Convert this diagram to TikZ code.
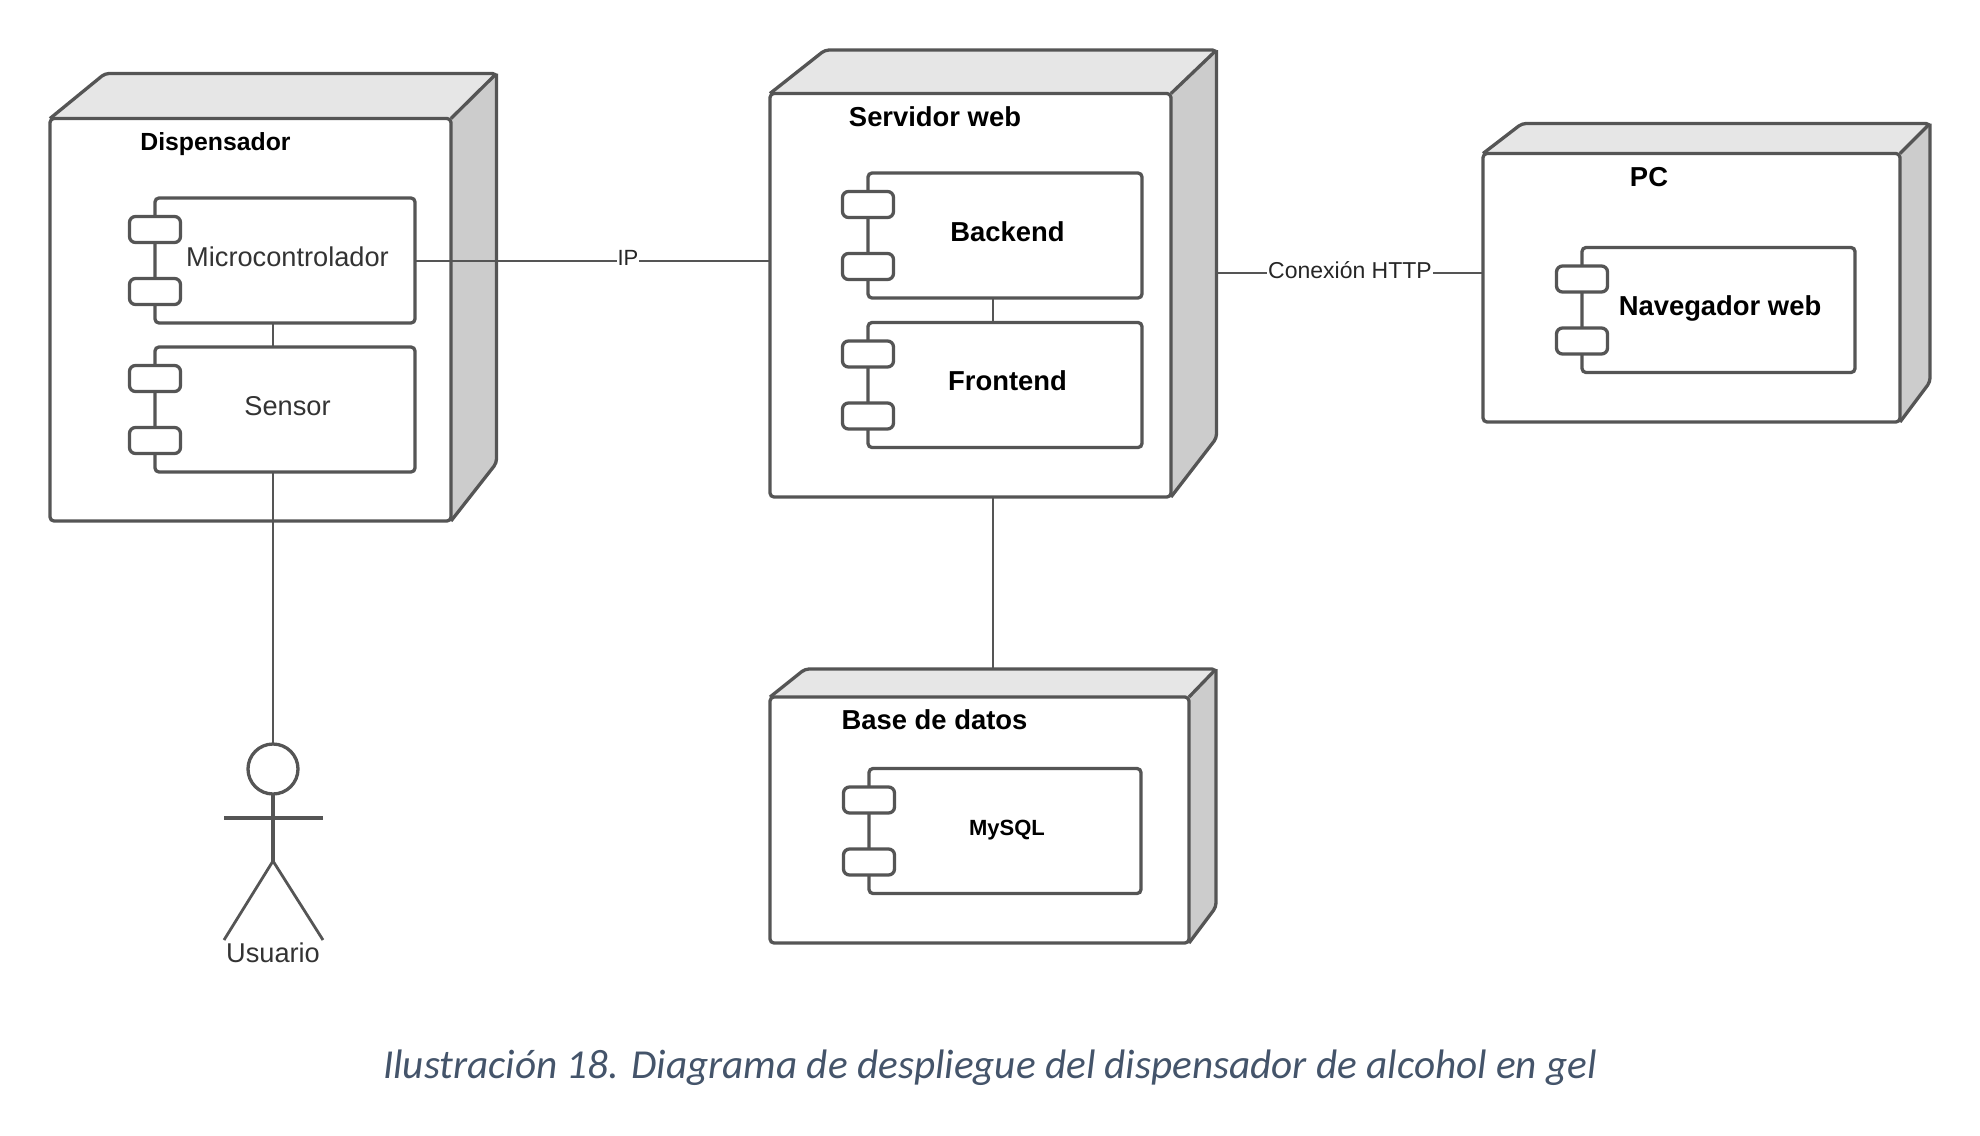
\documentclass[tikz,border=0pt]{standalone}
\usepackage{fontspec}
\usetikzlibrary{calc}
\setmainfont{Liberation Sans}
\newfontfamily\capfont{Carlito}
\definecolor{trazo}{HTML}{555555}
\definecolor{tapa}{HTML}{E6E6E6}
\definecolor{lado}{HTML}{CCCCCC}
\definecolor{pie}{HTML}{44546A}
\tikzset{
  borde/.style={draw=trazo,line width=3.3pt},
  cajafrente/.style={borde,rounded corners=4pt,inner sep=0pt,outer sep=0pt},
  cajacomp/.style={cajafrente,fill=white},
  oreja/.style={cajacomp,minimum width=51,minimum height=26,rounded corners=6pt},
  enlace/.style={draw=trazo,line width=2pt},
  negrita/.style={font=\fontsize{27.4}{30}\selectfont\bfseries,text=black,inner sep=0pt},
  normal/.style={font=\fontsize{27.2}{30}\selectfont,text=black!80,inner sep=0pt},
  etiqueta/.style={text=black!85,fill=white,inner sep=1pt}
}
% nodo 3D: nombre, x1, y1, x2, y2 del frente; x, y de la tapa; x del lado
\newcommand{\nodoUML}[8]{
  \fill[tapa] (#2,#3) -- (#6,#7) -- (#8,#7) -- (#4,#3) -- cycle;
  \draw[borde,rounded corners=4pt] (#2,#3) -- (#6,#7) -- (#8,#7) -- (#4,#3);
  \node[cajafrente,minimum width={#4-#2},minimum height={#5-#3}] (#1) at ({(#2+#4)/2},{(#3+#5)/2}) {};
}
% lado del nodo: x, y arriba del frente; x, y de la tapa; y del lado; y abajo del frente
\newcommand{\ladoUML}[6]{
  \fill[lado] (#1,#2) -- (#3,#4) -- (#3,#5) -- (#1,#6) -- cycle;
  \draw[borde,rounded corners=4pt] (#3,#4) -- (#3,#5) -- (#1,#6);
}
% componente: nombre, centro x, centro y, ancho
\newcommand{\comp}[4]{
  \node[cajacomp,minimum width=#4,minimum height=125] (#1) at (#2,#3) {};
  \node[oreja] (#1a) at ($(#1.west)+(0,-31)$) {};
  \node[oreja] (#1b) at ($(#1.west)+(0,31)$) {};
}
\begin{document}
\begin{tikzpicture}[x=1pt,y=-1pt]
\useasboundingbox (0,0) rectangle (1980,1135);

% Dispensador
\ladoUML{451}{118.5}{496.5}{73.5}{463}{521}
\nodoUML{disp}{50}{118.5}{451}{521}{105}{73.5}{496.5}
\node[negrita,font=\fontsize{24.8}{28}\selectfont\bfseries] (dispT) at (215.5,144.5) {Dispensador};
\comp{micro}{285}{260.5}{260}
\comp{sensor}{285}{409.5}{260}
\node[normal] (microT) at (287.5,257) {Microcontrolador};
\node[normal] (sensorT) at (287.5,406) {Sensor};

% Servidor web
\ladoUML{1171}{93.5}{1216.5}{50}{438}{497}
\nodoUML{serv}{770}{93.5}{1171}{497}{825}{50}{1216.5}
\node[negrita] (servT) at (935,117) {Servidor web};
\comp{back}{1005}{235.5}{274}
\comp{front}{1005}{385}{274}
\node[negrita] (backT) at (1007.5,232) {Backend};
\node[negrita] (frontT) at (1007.5,381) {Frontend};

% PC
\ladoUML{1900}{153.5}{1930}{123.5}{382}{422}
\nodoUML{pc}{1483}{153.5}{1900}{422}{1522}{123.5}{1930}
\node[negrita] (pcT) at (1649,177) {PC};
\comp{nav}{1718.5}{310}{273}
\node[negrita] (navT) at (1720,308) {Navegador web};

% Base de datos
\ladoUML{1189}{697}{1216}{669}{907}{943}
\nodoUML{base}{770}{697}{1189}{943}{805}{669}{1216}
\node[negrita] (baseT) at (934.5,719.5) {Base de datos};
\comp{mysql}{1005}{831}{272}
\node[negrita,font=\fontsize{22}{24}\selectfont\bfseries] (mysqlT) at (1007,830.5) {MySQL};

% Usuario
\node[borde,circle,minimum size=50,inner sep=0pt,outer sep=0pt,fill=white] (cabeza) at (273,769) {};
\coordinate (cadera) at (273,861);
\coordinate (manoI) at (224,818);
\coordinate (manoD) at (323,818);
\coordinate (pieI) at (224,940);
\coordinate (pieD) at (323,940);
\draw[borde] (cabeza.south) -- (cadera);
\draw[borde] (manoI) -- (manoD);
\draw[borde,line width=2.8pt] (pieI) -- (cadera) -- (pieD);
\node[normal] (usuarioT) at (273,953) {Usuario};

% Conexiones
\coordinate (ejeServ) at (993,600);
\coordinate (servLado) at (1217,273);
\draw[enlace] (micro.south -| cabeza) -- (sensor.north -| cabeza);
\draw[enlace] (sensor.south -| cabeza) -- (cabeza.north);
\draw[enlace] (micro.east) -- (micro.east -| serv.west) node[etiqueta,pos=0.6,yshift=2.5pt,font=\fontsize{22}{24}\selectfont] (ip) {IP};
\draw[enlace] (back.south -| ejeServ) -- (front.north -| ejeServ);
\draw[enlace] (servLado) -- (servLado -| pc.west) node[etiqueta,midway,yshift=2.5pt,font=\fontsize{23}{25}\selectfont] (http) {Conexión HTTP};
\draw[enlace] (serv.south -| ejeServ) -- (ejeServ |- 0,669);

% Pie
\node[font=\capfont\itshape\fontsize{41.2}{44}\selectfont,text=pie,inner sep=0pt] (pie) at (990,1067.5) {Ilustración 18. Diagrama de despliegue del dispensador de alcohol en gel};
\end{tikzpicture}
\end{document}
